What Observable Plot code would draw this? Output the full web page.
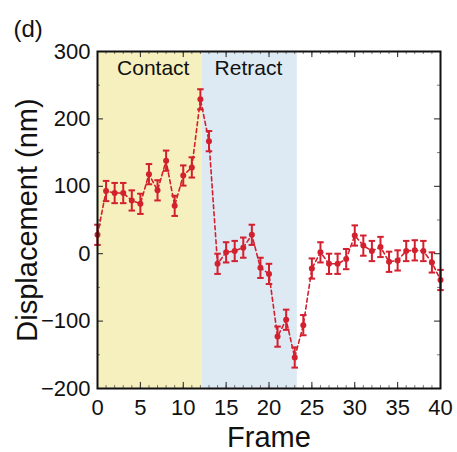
<!DOCTYPE html>
<html>
<head>
<meta charset="utf-8">
<script src="https://cdn.jsdelivr.net/npm/d3@7"></script>
<script src="https://cdn.jsdelivr.net/npm/@observablehq/plot@0.6"></script>
<style>
  html, body { margin: 0; padding: 0; background: #fff; }
  #chart { width: 457px; height: 452px; }
</style>
</head>
<body>
<div id="chart"></div>
<script>
// ---- data ----
const frames = [0,1,2,3,4,5,6,7,8,9,10,11,12,13,14,15,16,17,18,19,20,21,22,23,24,25,26,27,28,29,30,31,32,33,34,35,36,37,38,39,40];
const displacement = [28, 93, 90, 90, 79, 74, 118, 94, 138, 71, 116, 128, 229, 167, -15, 2, 4, 9, 28, -21, -30, -123, -98, -154, -106, -22, 2, -15, -15, -8, 27, 12, 4, 10, -12, -10, 4, 5, 4, -13, -39];
const errors = [15,15,15,15,15,15,15,15,15,15,15,15,15,15,15,15,15,15,15,15,15,15,15,15,15,15,15,15,15,15,15,15,15,15,15,15,15,15,15,15,15];
const phaseNames = ["Contact", "Retract"];
const phaseStart = [0, 12.2];
const phaseEnd = [12.2, 23.3];
const xTicks = [0, 5, 10, 15, 20, 25, 30, 35, 40];
const yTicks = [-200, -100, 0, 100, 200, 300];
const xMinor = frames;
const yMinor = [-150, -50, 50, 150, 250];

const data = frames.map((f, i) => ({frame: f, v: displacement[i], e: errors[i]}));
const phases = phaseNames.map((n, i) => ({name: n, x1: phaseStart[i], x2: phaseEnd[i]}));

const red = "#d3202f";
const font = "'Liberation Sans', Arial, Helvetica, sans-serif";

const chart = Plot.plot({
  width: 457,
  height: 452,
  marginLeft: 97,
  marginRight: 17,
  marginTop: 51,
  marginBottom: 64,
  style: {fontFamily: font, background: "#fff", overflow: "visible"},
  x: {domain: [0, 40]},
  y: {domain: [-200, 300]},
  marks: [
    Plot.rect(phases, {x1: "x1", x2: "x2", fill: (d) => d.name}),
    Plot.text(phases, {x: (d) => d.name === "Contact" ? 6.5 : 17.6, y: 275, text: "name", fontSize: 21, fill: "#111"}),
    // dashed connecting line
    Plot.line(data, {x: "frame", y: "v", stroke: red, strokeWidth: 1.6, strokeDasharray: "4,3"}),
    // error bars
    Plot.ruleX(data, {x: "frame", y1: (d) => d.v - d.e, y2: (d) => d.v + d.e, stroke: red, strokeWidth: 2}),
    Plot.link(data, {x1: (d) => d.frame - 0.38, x2: (d) => d.frame + 0.38, y1: (d) => d.v + d.e, y2: (d) => d.v + d.e, stroke: red, strokeWidth: 2}),
    Plot.link(data, {x1: (d) => d.frame - 0.38, x2: (d) => d.frame + 0.38, y1: (d) => d.v - d.e, y2: (d) => d.v - d.e, stroke: red, strokeWidth: 2}),
    Plot.dot(data, {x: "frame", y: "v", r: 3, fill: red, stroke: "none"}),
    // inward ticks
    Plot.ruleX(xTicks, {x: (d) => d, y1: -200, y2: -191, stroke: "#222", strokeWidth: 1}),
    Plot.ruleX(xTicks, {x: (d) => d, y1: 300, y2: 291, stroke: "#222", strokeWidth: 1}),
    Plot.ruleX(xMinor, {x: (d) => d, y1: -200, y2: -195.5, stroke: "#444", strokeWidth: 0.7}),
    Plot.ruleX(xMinor, {x: (d) => d, y1: 300, y2: 295.5, stroke: "#444", strokeWidth: 0.7}),
    Plot.ruleY(yTicks, {y: (d) => d, x1: 0, x2: 0.7, stroke: "#222", strokeWidth: 1}),
    Plot.ruleY(yTicks, {y: (d) => d, x1: 40, x2: 39.3, stroke: "#222", strokeWidth: 1}),
    Plot.ruleY(yMinor, {y: (d) => d, x1: 0, x2: 0.35, stroke: "#444", strokeWidth: 0.7}),
    Plot.ruleY(yMinor, {y: (d) => d, x1: 40, x2: 39.65, stroke: "#444", strokeWidth: 0.7}),
    Plot.frame({stroke: "#111", strokeWidth: 2}),
    // axes (labels only)
    Plot.axisX(xTicks, {tickSize: 0, tickPadding: 11, fontSize: 22, label: null, fill: "#111"}),
    Plot.axisY(yTicks, {tickSize: 0, tickPadding: 7, fontSize: 22, label: null, fill: "#111"}),
    // axis titles and panel label
    Plot.text(["Frame"], {frameAnchor: "bottom", dy: 49, text: (d) => d, fontSize: 29, fill: "#111", lineAnchor: "middle"}),
    Plot.text(["Displacement (nm)"], {frameAnchor: "left", dx: -70, rotate: -90, textAnchor: "middle", text: (d) => d, fontSize: 29, fill: "#111", lineAnchor: "middle"}),
    Plot.text(["(d)"], {frameAnchor: "top-left", dx: -84, dy: -22, textAnchor: "start", lineAnchor: "middle", text: (d) => d, fontSize: 24, fill: "#111"})
  ],
  color: {domain: phaseNames, range: ["#f5f0bd", "#dde9f3"]}
});
document.getElementById("chart").appendChild(chart);
</script>
</body>
</html>
